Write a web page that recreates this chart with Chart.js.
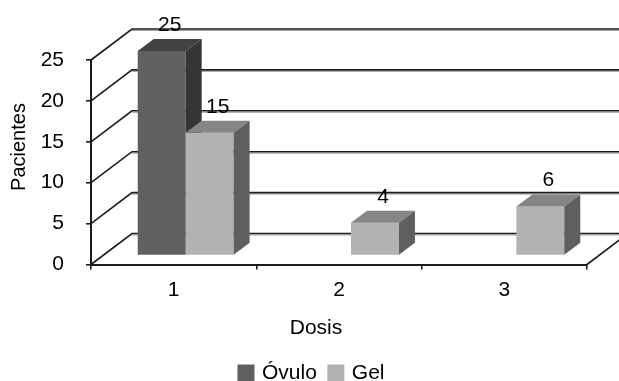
<!DOCTYPE html>
<html>
<head>
<meta charset="utf-8">
<style>
  html, body { margin: 0; padding: 0; background: #fff; overflow: hidden; }
  canvas { display: block; }
</style>
<script src="https://cdn.jsdelivr.net/npm/chart.js@4/dist/chart.umd.min.js"></script>
</head>
<body>
<canvas id="chart" width="619" height="381"></canvas>
<script>
// Chart values
const categories = ['1', '2', '3'];
const ovuloValues = [25, null, null];
const gelValues = [15, 4, 6];
const yTicks = [0, 5, 10, 15, 20, 25];
const xTitle = 'Dosis';
const yTitle = 'Pacientes';

const fontFamily = '"Liberation Sans", Arial, sans-serif';
const fontSize = 21;
const lineColor = '#1c1c1c';

// Fake 3D settings
const wall = { dx: 41, dy: 31 };      // back wall offset from the front plane
const barShift = { dx: 12, dy: 9 };   // bars stand a bit behind the front plane
const barDepth = { dx: 16, dy: 12 };

const faces = [
  { top: '#424242', side: '#333636' },  // Ovulo
  { top: '#858585', side: '#5f5f5f' }   // Gel
];

function poly(ctx, pts, fill) {
  ctx.beginPath();
  pts.forEach((p, i) => i ? ctx.lineTo(p[0], p[1]) : ctx.moveTo(p[0], p[1]));
  ctx.closePath();
  ctx.fillStyle = fill;
  ctx.fill();
}

const bars3d = {
  id: 'bars3d',
  // legend is centred on the whole picture, not on the padded box
  afterLayout(chart) {
    chart.legend.left += 19;
    chart.legend.right += 19;
  },
  // Datasets are painted here so that Gel ends up in front of Ovulo
  beforeDatasetsDraw(chart) {
    const { ctx, chartArea: area, scales } = chart;
    const yScale = scales.y;

    // walls and grid lines
    yTicks.forEach(t => {
      const y = yScale.getPixelForValue(t);
      ctx.strokeStyle = '#a0a0a0';
      ctx.lineWidth = 1;
      ctx.beginPath();
      ctx.moveTo(area.left + wall.dx, y - wall.dy + 1.5);
      ctx.lineTo(area.right + wall.dx, y - wall.dy + 1.5);
      ctx.stroke();
      ctx.strokeStyle = lineColor;
      ctx.lineWidth = 1.6;
      ctx.beginPath();
      ctx.moveTo(area.left, y);
      ctx.lineTo(area.left + wall.dx, y - wall.dy);
      ctx.lineTo(area.right + wall.dx, y - wall.dy);
      ctx.stroke();
    });
    ctx.strokeStyle = lineColor;
    ctx.beginPath();
    ctx.moveTo(area.right, area.bottom);
    ctx.lineTo(area.right + wall.dx, area.bottom - wall.dy);
    ctx.stroke();

    // bars
    chart.data.datasets.forEach((ds, d) => {
      const meta = chart.getDatasetMeta(d);
      ctx.save();
      ctx.translate(barShift.dx, -barShift.dy);
      meta.controller.draw();
      meta.data.forEach((el, i) => {
        if (ds.data[i] === null) return;
        const l = el.x - el.width / 2, r = el.x + el.width / 2;
        const t = el.y, b = el.base;
        poly(ctx, [[l, t], [l + barDepth.dx, t - barDepth.dy], [r + barDepth.dx, t - barDepth.dy], [r, t]], faces[d].top);
        poly(ctx, [[r, t], [r + barDepth.dx, t - barDepth.dy], [r + barDepth.dx, b - barDepth.dy], [r, b]], faces[d].side);
      });
      ctx.restore();
    });

    // value labels
    ctx.font = fontSize + 'px ' + fontFamily;
    ctx.fillStyle = '#000';
    ctx.textAlign = 'center';
    ctx.textBaseline = 'middle';
    chart.data.datasets.forEach((ds, d) => {
      chart.getDatasetMeta(d).data.forEach((el, i) => {
        if (ds.data[i] === null) return;
        ctx.fillText(ds.data[i], el.x + barShift.dx + barDepth.dx / 2, el.y - barShift.dy - 26);
      });
    });
    return false;
  },
  // Axis titles sit off the plot centre in the original
  afterDraw(chart) {
    const { ctx } = chart;
    ctx.save();
    ctx.font = fontSize + 'px ' + fontFamily;
    ctx.fillStyle = '#000';
    ctx.textAlign = 'center';
    ctx.textBaseline = 'middle';
    ctx.fillText(xTitle, 316, 328);
    ctx.font = '20px ' + fontFamily;
    ctx.translate(19, 147);
    ctx.rotate(-Math.PI / 2);
    ctx.fillText(yTitle, 0, 0);
    ctx.restore();
  }
};

new Chart(document.getElementById('chart'), {
  type: 'bar',
  data: {
    labels: categories,
    datasets: [
      { label: 'Óvulo', data: ovuloValues, backgroundColor: '#606060', borderWidth: 0 },
      { label: 'Gel', data: gelValues, backgroundColor: '#b2b2b2', borderWidth: 0 }
    ]
  },
  options: {
    responsive: false,
    animation: false,
    layout: { padding: { top: 60, right: 32, left: 0, bottom: -12.5 } },
    datasets: { bar: { barPercentage: 1, categoryPercentage: 0.58 } },
    plugins: {
      tooltip: { enabled: false },
      legend: {
        position: 'bottom',
        labels: {
          // small box with a thick stroke, so the text sits close to the swatch
          boxWidth: 11,
          boxHeight: 11,
          padding: 13.5,
          color: '#000',
          font: { family: fontFamily, size: fontSize },
          generateLabels(chart) {
            return Chart.defaults.plugins.legend.labels.generateLabels(chart).map(item => {
              item.strokeStyle = item.fillStyle;
              item.lineWidth = 6;
              return item;
            });
          }
        }
      }
    },
    scales: {
      x: {
        afterFit(scale) { scale.height = 84.5; },
        grid: { offset: true, drawOnChartArea: false, tickLength: 5, color: lineColor, lineWidth: 1.6 },
        border: { color: lineColor, width: 2 },
        ticks: { padding: 8, color: '#000', font: { family: fontFamily, size: fontSize }, maxRotation: 0 }
      },
      y: {
        min: 0,
        max: 25,
        afterFit(scale) { scale.width = 91; },
        afterBuildTicks(scale) { scale.ticks = yTicks.map(v => ({ value: v })); },
        grid: { drawOnChartArea: false, tickLength: 5, color: lineColor, lineWidth: 1.6 },
        border: { color: lineColor, width: 2 },
        ticks: { padding: 22, color: '#000', font: { family: fontFamily, size: fontSize } }
      }
    }
  },
  plugins: [bars3d]
});
</script>
</body>
</html>
